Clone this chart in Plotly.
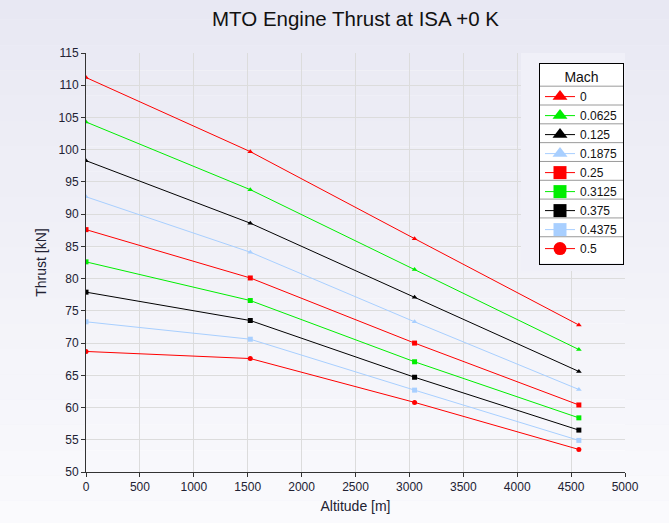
import plotly.graph_objects as go

altitude = [0, 1524, 3048, 4572]
mach_labels = ["0", "0.0625", "0.125", "0.1875", "0.25", "0.3125", "0.375", "0.4375", "0.5"]
thrust = {
    "0":      [111.2, 99.7, 86.2, 72.8],
    "0.0625": [104.3, 93.8, 81.4, 69.0],
    "0.125":  [98.3, 88.6, 77.1, 65.6],
    "0.1875": [92.7, 84.1, 73.3, 62.8],
    "0.25":   [87.6, 80.1, 70.0, 60.4],
    "0.3125": [82.6, 76.6, 67.1, 58.4],
    "0.375":  [77.9, 73.5, 64.7, 56.5],
    "0.4375": [73.3, 70.6, 62.7, 54.9],
    "0.5":    [68.7, 67.6, 60.8, 53.5],
}
x_ticks = list(range(0, 5001, 500))
y_ticks = list(range(50, 116, 5))

colors = ["#FF0000", "#00EE00", "#000000", "#A8CFFF"] * 2 + ["#FF0000"]
symbols = ["triangle-up"] * 4 + ["square"] * 4 + ["circle"]

fig = go.Figure()
for lab, col, sym in zip(mach_labels, colors, symbols):
    fig.add_trace(go.Scatter(
        x=altitude, y=thrust[lab], name=lab, mode="lines+markers",
        line=dict(color=col, width=1),
        marker=dict(color=col, symbol=sym, size=5),
        legendgroup=lab, showlegend=False,
    ))
# legend-only entries (large symbols, thin lines)
for lab, col, sym in zip(mach_labels, colors, symbols):
    fig.add_trace(go.Scatter(
        x=[None], y=[None], name=lab, mode="lines+markers",
        line=dict(color=col, width=1),
        marker=dict(color=col, symbol=sym, size=13),
        legendgroup=lab, showlegend=True,
    ))

W, H = 669, 523
L, R, T, B = 86, 44, 53, 47
pw, ph = W - L - R, H - T - B

def px(xp):
    return (xp - L) / pw

def py(yp):
    return 1 - (yp - T) / ph

shapes = []
# paper gradient background
n = 24
for i in range(n):
    t = i / (n - 1)
    r = int(232 + (252 - 232) * t)
    g = int(232 + (252 - 232) * t)
    b = int(243 + (254 - 243) * t)
    shapes.append(dict(type="rect", xref="paper", yref="paper", layer="below",
                       x0=-0.2, x1=1.2, y0=1.2 - (i + 1) * 1.45 / n, y1=1.2 - i * 1.45 / n,
                       fillcolor=f"rgb({r},{g},{b})", line=dict(width=0)))
# legend panel
shapes.append(dict(type="rect", xref="paper", yref="paper", layer="above",
                   x0=px(521), x1=1.0, y0=py(273), y1=1.0,
                   fillcolor="#F0F0F8", line=dict(width=0)))
# legend box background and row separators
box_l, box_r, box_t, box_b = 539, 624, 63, 265
shapes.append(dict(type="rect", xref="paper", yref="paper", layer="above",
                   x0=px(box_l), x1=px(box_r), y0=py(box_b), y1=py(box_t),
                   fillcolor="#FFFFFF", line=dict(width=0)))
for k in range(len(mach_labels)):
    yy = 86.5 + 19 * k
    shapes.append(dict(type="line", xref="paper", yref="paper", layer="above",
                       x0=px(box_l), x1=px(box_r), y0=py(yy), y1=py(yy),
                       line=dict(color="#9A9A9A", width=1)))

fig.update_layout(
    width=W, height=H,
    margin=dict(l=L, r=R, t=T, b=B),
    paper_bgcolor="#F0F0F7",
    plot_bgcolor="#FFFFFF",
    font=dict(family="Liberation Sans, Arial, sans-serif", size=12, color="#222233"),
    title=dict(text="MTO Engine Thrust at ISA +0 K", x=(L + pw / 2) / W, xref="container",
               y=1 - 19 / H, yref="container", xanchor="center", yanchor="middle",
               font=dict(size=20.5, color="#111111")),
    xaxis=dict(range=[0, 5000], tickvals=x_ticks, showgrid=True, gridcolor="#DCDCDC",
               gridwidth=1, showline=True, linecolor="#333333", linewidth=1,
               ticks="outside", ticklen=4, tickcolor="#333333", zeroline=False,
               title=dict(text="Altitude [m]", standoff=7)),
    yaxis=dict(range=[50, 115], tickvals=y_ticks, showgrid=True, gridcolor="#DCDCDC",
               gridwidth=1, showline=True, linecolor="#333333", linewidth=1,
               ticks="outside", ticklen=4, tickcolor="#333333", zeroline=False,
               title=dict(text="Thrust [kN]", standoff=8)),
    legend=dict(x=px(box_l), y=py(box_t), xanchor="left", yanchor="top",
                bgcolor="rgba(0,0,0,0)", bordercolor="#000000", borderwidth=1,
                itemwidth=30, tracegroupgap=0,
                title=dict(text="Mach", side="top center"),
                font=dict(size=12, color="#111111")),
    shapes=shapes,
    showlegend=True,
)

fig.write_html("out.html", config={"displayModeBar": False},
               post_script="document.body.style.margin='0';")
